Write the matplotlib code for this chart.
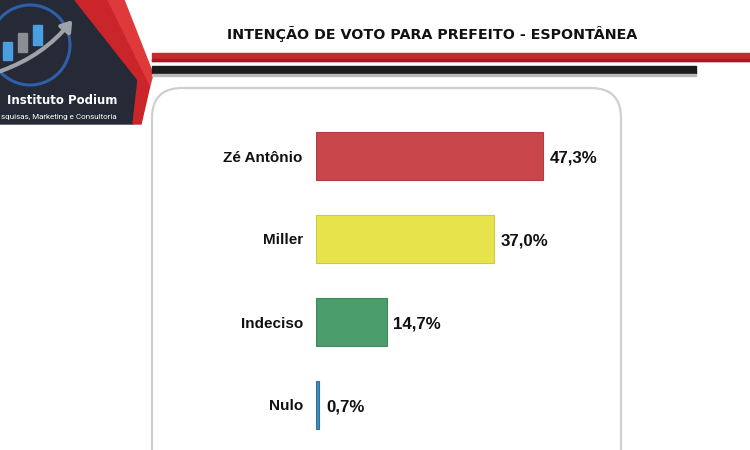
import matplotlib
matplotlib.use("Agg")
import matplotlib.pyplot as plt
from matplotlib.patches import Polygon, Rectangle, FancyBboxPatch, Circle, FancyArrowPatch

# data
candidatos = ["Zé Antônio", "Miller", "Indeciso", "Nulo"]
votos = [47.3, 37.0, 14.7, 0.7]
rotulos = ["47,3%", "37,0%", "14,7%", "0,7%"]
cores = ["#C9474B", "#E7E44B", "#4B9D6C", "#3E8EC0"]
bordas = ["#B03E41", "#CFCC3C", "#3F8A5D", "#2F7098"]

titulo = "INTENÇÃO DE VOTO PARA PREFEITO - ESPONTÂNEA"

fig = plt.figure(figsize=(7.5, 4.5), dpi=100)

# background layer in pixel coordinates
bg = fig.add_axes([0, 0, 1, 1])
bg.set_xlim(0, 750)
bg.set_ylim(450, 0)
bg.axis("off")

# logo block
bg.add_patch(Polygon([(0, 0), (75, 0), (138, 80), (133, 124), (0, 124)],
                     closed=True, color="#252A36", zorder=1))
bg.add_patch(Polygon([(75, 0), (108, 0), (150, 85), (141, 124), (133, 124), (138, 80)],
                     closed=True, color="#C9252B", zorder=2))
bg.add_patch(Polygon([(108, 0), (124, 0), (153, 74), (150, 85)],
                     closed=True, color="#E0393C", zorder=2))
bg.add_patch(Circle((30, 45), 40, fill=False, ec="#2F5FA8", lw=2.2, zorder=3))
bg.add_patch(Rectangle((3, 42), 9, 18, color="#4A9FE0", zorder=3))
bg.add_patch(Rectangle((18, 33), 9, 19, color="#8A8F96", zorder=3))
bg.add_patch(Rectangle((33, 25), 9, 20, color="#4A9FE0", zorder=3))
bg.add_patch(FancyArrowPatch((-2, 72), (74, 18), connectionstyle="arc3,rad=0.15",
                             arrowstyle="-|>,head_length=6,head_width=4",
                             color="#9EA3AA", lw=3, zorder=4))
bg.text(7, 101, "Instituto Podium", color="white", fontsize=8.5,
        fontweight="bold", ha="left", va="center", family="DejaVu Sans", zorder=5)
bg.text(1, 117, "squisas, Marketing e Consultoria", color="white", fontsize=5.8,
        ha="left", va="center", family="Roboto", zorder=5)

# header title and stripes
bg.text(432, 34, titulo, fontsize=10.3, fontweight="bold", ha="center", va="center",
        color="#111111", family="DejaVu Sans")
bg.add_patch(Rectangle((152, 53), 600, 8, color="#C62A2E", zorder=2))
bg.add_patch(Rectangle((152, 59), 600, 2, color="#9E1E22", zorder=2))
bg.add_patch(Rectangle((152, 66), 544, 8, color="#1B1B1B", zorder=2))
bg.add_patch(Rectangle((152, 74), 544, 2, color="#BBBBBB", zorder=2))

# white rounded card
bg.add_patch(FancyBboxPatch((152, 88), 469, 400, boxstyle="round,pad=0,rounding_size=30",
                            fc="white", ec="#CFCFCF", lw=1.6, zorder=1))

# bar chart
ax = fig.add_axes([316 / 750, 1 - 446.5 / 450, 300 / 750, 332 / 450])
ax.patch.set_alpha(0)
y = list(range(len(candidatos)))
ax.barh(y, votos, height=0.58, color=cores, edgecolor=bordas, linewidth=0.8)
ax.set_xlim(0, 300 / 4.8)
ax.set_ylim(len(candidatos) - 0.5, -0.5)
ax.set_yticks(y)
ax.set_yticklabels(candidatos, fontsize=11, fontweight="bold",
                   family="Liberation Sans", color="#111111")
ax.tick_params(axis="y", length=0, pad=9.5)
ax.set_xticks([])
for s in ax.spines.values():
    s.set_visible(False)

for yi, v, txt in zip(y, votos, rotulos):
    ax.text(v + 1.4, yi + 0.03, txt, va="center", ha="left", fontsize=12.2,
            fontweight="bold", family="Liberation Sans", color="#111111")

plt.savefig("out.png", dpi=100)
